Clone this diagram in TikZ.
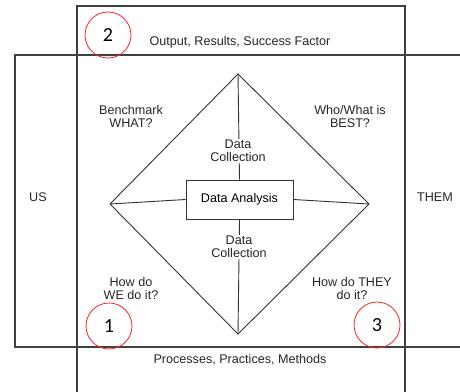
\documentclass[tikz,border=0pt]{standalone}
\usepackage{fontspec}
\setmainfont{Liberation Sans}
\newfontfamily\numfont{Carlito}
\begin{document}
\begin{tikzpicture}[x=1pt,y=-1pt,
  frame/.style={draw=black!75,line width=1.1pt},
  thin/.style={draw=black!80,line width=0.9pt},
  lbl/.style={font=\fontsize{12.6}{13}\selectfont,align=center,text=black!85,inner sep=1pt},
  num/.style={circle,draw=red!85,line width=0.8pt,minimum size=46pt,inner sep=0pt,font=\numfont\fontsize{20}{20}\selectfont},
  abox/.style={draw=black!80,line width=0.9pt,minimum width=107pt,minimum height=39pt,font=\fontsize{12.6}{13}\selectfont,fill=white}]
\useasboundingbox (0,0) rectangle (460,391);
\begin{scope}
\clip (0,0) rectangle (460,391);
\draw[frame] (77,400) -- (77,6) -- (405,6) -- (405,400);
\draw[frame] (470,55) -- (15,55) -- (15,347) -- (470,347);
\end{scope}
\coordinate (T) at (238,74);
\coordinate (B) at (238,334);
\coordinate (L) at (110,204);
\coordinate (R) at (369,204);
\draw[thin] (T) -- (R) -- (B) -- (L) -- cycle;
\node[abox] (da) at (239.5,199.5) {Data Analysis};
\draw[thin] (T) -- (da.north);
\draw[thin] (da.south) -- (B);
\draw[thin] (L) -- (da.west);
\draw[thin] (da.east) -- (R);
\node[lbl,fill=white] (dc1) at (238,151) {Data\\Collection};
\node[lbl,fill=white] (dc2) at (239,247) {Data\\Collection};
\node[lbl] (out) at (240,42) {Output, Results, Success Factor};
\node[lbl] (proc) at (240,360) {Processes, Practices, Methods};
\node[lbl] (us) at (38,197) {US};
\node[lbl] (them) at (435,197) {THEM};
\node[lbl] (bw) at (131,116) {Benchmark\\WHAT?};
\node[lbl] (wb) at (350,116) {Who/What is\\BEST?};
\node[lbl] (we) at (131,288) {How do\\WE do it?};
\node[lbl] (they) at (352,288) {How do THEY\\do it?};
\node[num] (n2) at (108,35) {2};
\node[num] (n1) at (109,326) {1};
\node[num] (n3) at (377,325) {3};
\end{tikzpicture}
\end{document}
